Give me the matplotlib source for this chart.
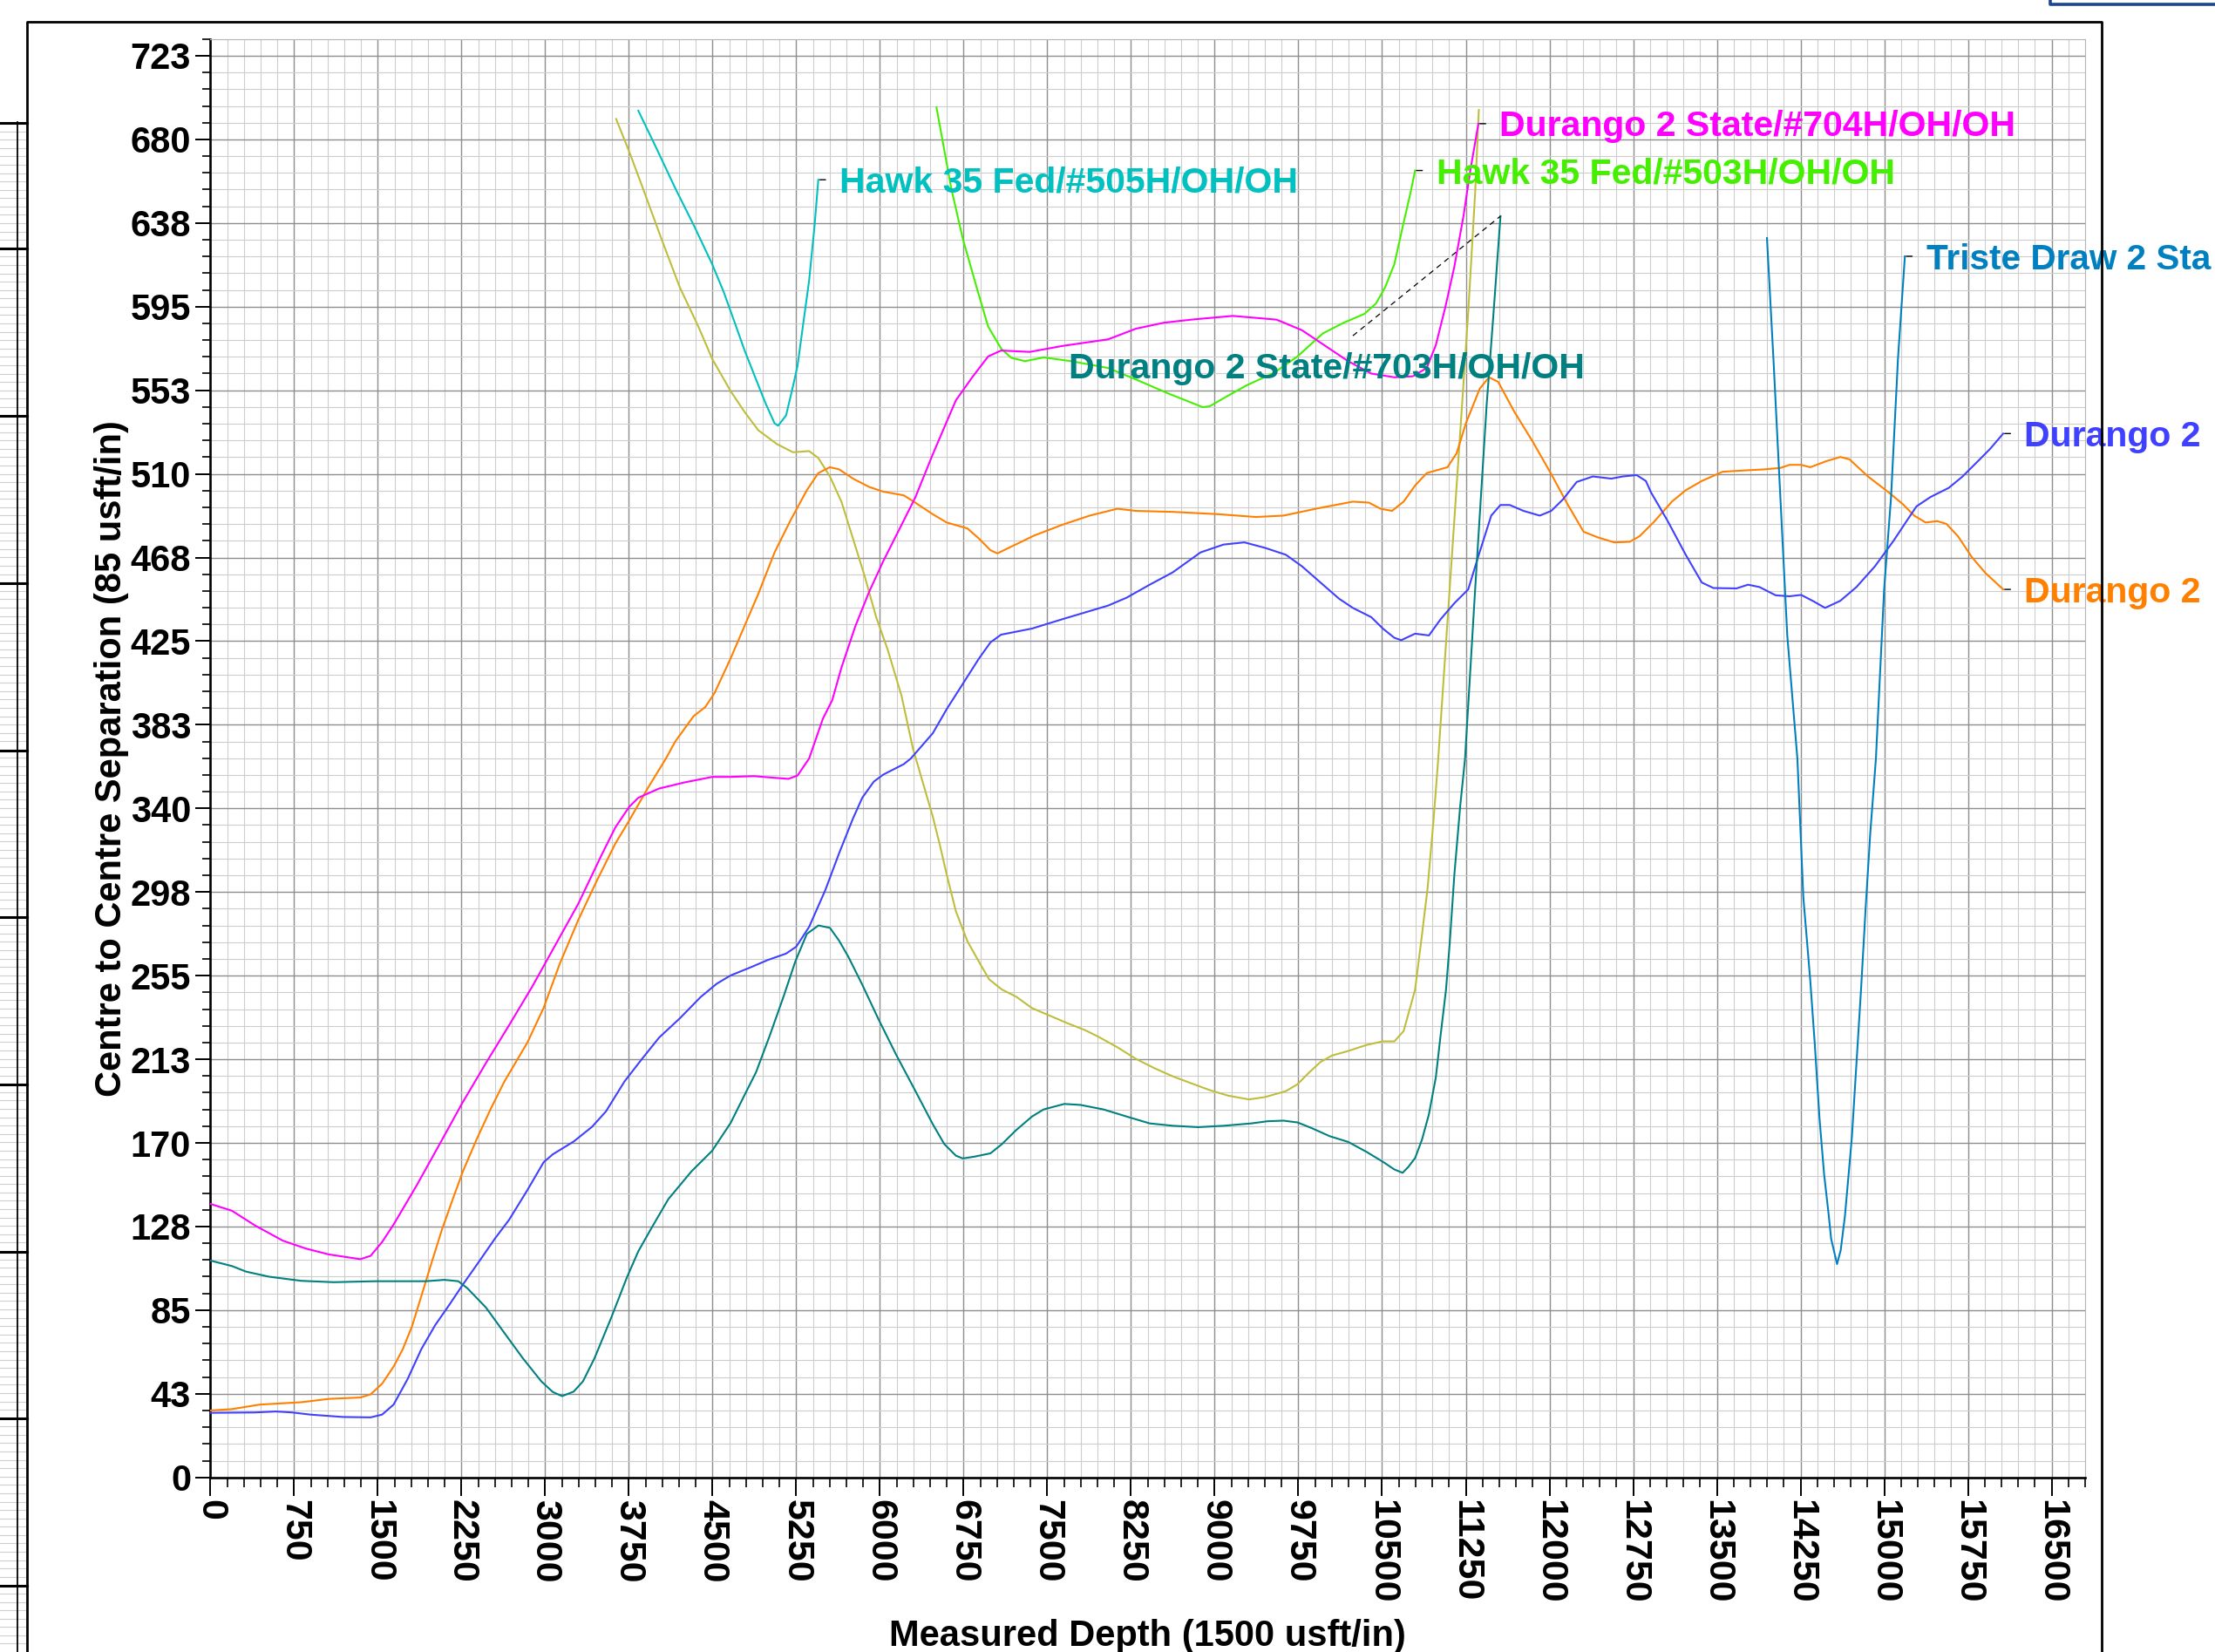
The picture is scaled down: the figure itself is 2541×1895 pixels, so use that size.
import matplotlib
matplotlib.use("Agg")
import matplotlib.pyplot as plt
from matplotlib.lines import Line2D

# ---------------- data ----------------
x_ticks = list(range(0, 16501, 750))
y_tick_values = [42.5 * i for i in range(18)]
y_tick_labels = ["0", "43", "85", "128", "170", "213", "255", "298", "340",
                 "383", "425", "468", "510", "553", "595", "638", "680", "723"]

# Durango 2 State/#704H/OH/OH (magenta)
durango_704 = [(0, 139), (194, 135.5), (401, 128), (650, 120.3), (856, 116.3), (1063, 113.3),
               (1345, 110.9), (1436, 112.6), (1539, 119.6), (1642, 128.5), (1849, 148.4),
               (2056, 169.5), (2255, 190), (2470, 210.6), (2677, 229.8), (2883, 249.3),
               (3090, 270.4), (3297, 291.5), (3504, 316.1), (3628, 330.2), (3752, 340.7),
               (3835, 345.4), (4021, 350.1), (4249, 353.2), (4497, 356), (4662, 356),
               (4869, 356.4), (5179, 355), (5262, 356.7), (5366, 365.4), (5490, 385.7),
               (5573, 395), (5655, 411.5), (5780, 432.6), (5903, 450), (6028, 465.4),
               (6193, 484), (6317, 498), (6474, 520), (6557, 531), (6681, 547.4),
               (6826, 559), (6970, 569.7), (7086, 572.7), (7343, 572), (7632, 575),
               (8046, 578.4), (8294, 583.8), (8542, 586.8), (8790, 588.4), (9162, 590.3),
               (9555, 588.4), (9783, 583), (9948, 576.7), (10196, 567.3), (10403, 561),
               (10610, 559.1), (10775, 559.6), (10900, 563.8), (10982, 575.5), (11065, 594.3),
               (11148, 615.4), (11230, 641.2), (11292, 664.6), (11363, 688)]

# Hawk 35 Fed/#505H/OH/OH (cyan)
hawk_505 = [(3835, 694.6), (4000, 675.2), (4166, 655.2), (4331, 636.5), (4497, 616.6),
            (4600, 602.5), (4704, 586.1), (4786, 573), (4890, 558), (4973, 546.2),
            (5056, 535.7), (5088, 534.5), (5159, 539.7), (5221, 554.5), (5262, 565),
            (5304, 582.6), (5366, 608.4), (5415, 636.5), (5448, 659.5)]

# Hawk 35 Fed/#503H/OH/OH (green)
hawk_503 = [(6507, 696.3), (6639, 655.2), (6743, 629.5), (6867, 604.8), (6970, 584.9),
            (7086, 573.7), (7177, 569), (7301, 567.3), (7467, 569.2), (7715, 567.3),
            (8046, 563.8), (8294, 558), (8583, 550.9), (8894, 543.9), (8956, 544.4),
            (9121, 549.8), (9286, 555), (9535, 561.5), (9742, 569.7), (9969, 581.4),
            (10155, 586.8), (10341, 591.3), (10445, 596.6), (10527, 604.8), (10610, 616.6),
            (10693, 637.7), (10755, 652.9), (10796, 664.2)]

# unlabelled offset well (olive)
olive_well = [(3636, 690.4), (3752, 674), (3876, 655.2), (4042, 629.5), (4207, 604.8),
              (4373, 584.9), (4497, 568.5), (4662, 552.1), (4786, 541.6), (4910, 532.2),
              (5076, 525.2), (5221, 521), (5366, 521.6), (5448, 518.1), (5552, 508.7),
              (5655, 495.9), (5759, 477.1), (5862, 458.3), (5966, 437.3), (6069, 420.8),
              (6193, 397.4), (6296, 370.4), (6474, 335.8), (6536, 321.7), (6598, 306.5),
              (6681, 287.7), (6784, 272.5), (6888, 262), (6979, 253.1), (7094, 247.9),
              (7219, 244.4), (7363, 238.5), (7508, 235), (7673, 231), (7839, 227.3),
              (7963, 223.8), (8128, 218.6), (8294, 212.7), (8459, 208), (8625, 203.8),
              (8790, 200.3), (8956, 196.8), (9121, 194), (9307, 192.1), (9452, 193.3),
              (9638, 196.3), (9742, 199.8), (9845, 205.7), (9948, 211.1), (10052, 214.4),
              (10196, 216.7), (10362, 219.8), (10507, 221.6), (10610, 221.6), (10693, 226.8),
              (10796, 247.9), (10858, 276), (10908, 299.5), (10962, 334.6), (11003, 365),
              (11189, 521.6), (11272, 592), (11334, 652.9), (11367, 695)]

# Durango 2 (orange)
durango_702 = [(0, 34), (194, 34.7), (443, 37), (815, 38.2), (1063, 39.9), (1345, 40.6),
               (1436, 42.2), (1539, 47.6), (1642, 56.3), (1725, 65.2), (1808, 76.9),
               (1891, 92.2), (1973, 107.4), (2077, 126.2), (2180, 142.6), (2263, 155.5),
               (2387, 171.9), (2511, 187.1), (2635, 201.2), (2842, 221.1), (2987, 238.7),
               (3131, 261), (3297, 283.3), (3463, 303.2), (3628, 322), (3752, 333.7),
               (3918, 350.1), (4083, 365.4), (4166, 374), (4331, 386.9), (4435, 391.5),
               (4518, 398.6), (4662, 416.2), (4786, 432.6), (4910, 449), (5056, 470.1),
               (5200, 486.5), (5345, 501.7), (5448, 510.4), (5552, 513.4), (5635, 512.3),
               (5759, 507.6), (5903, 503.4), (6028, 501), (6214, 499.1), (6317, 495.4),
               (6474, 489.5), (6598, 485.3), (6784, 482.3), (6888, 477.1), (6991, 471.2),
               (7053, 469.6), (7136, 471.9), (7384, 478.7), (7632, 484.1), (7880, 488.8),
               (8128, 492.3), (8294, 491.2), (8625, 490.7), (9038, 489.5), (9369, 488.1),
               (9617, 488.8), (9907, 492.3), (10238, 495.9), (10382, 495.4), (10486, 492.3),
               (10589, 491.2), (10693, 495.9), (10796, 504.1), (10900, 510.4), (11086, 513.4),
               (11168, 520.5), (11251, 535.7), (11375, 553.3), (11458, 559.1), (11540, 556.8),
               (11685, 541.6), (11851, 526.3), (12016, 509.9), (12161, 494.7), (12306, 480.6),
               (12430, 477.8), (12580, 475.2), (12719, 475.5), (12807, 478.3), (12931, 485.3),
               (13097, 495.9), (13221, 501.7), (13365, 506.4), (13552, 511.1), (13758, 511.8),
               (13924, 512.3), (14068, 513), (14151, 514.6), (14255, 514.6), (14337, 513.4),
               (14482, 516.5), (14606, 518.6), (14689, 517.4), (14854, 508.7), (15040, 500.6),
               (15165, 494.7), (15268, 488.8), (15371, 485.3), (15475, 486), (15557, 484.6),
               (15661, 478.3), (15785, 467.7), (15909, 459.5), (16066, 451.3)]

# Durango 2 (blue)
durango_701 = [(0, 32.8), (401, 33), (587, 33.5), (732, 33), (898, 31.9), (1187, 30.7),
               (1436, 30.5), (1539, 31.9), (1642, 37), (1767, 49.9), (1891, 65.2),
               (2015, 77.4), (2139, 87.5), (2263, 98), (2408, 109.7), (2552, 121.5),
               (2677, 130.9), (2842, 146.1), (2987, 160.2), (3069, 164.2), (3256, 170.7),
               (3421, 178.2), (3545, 186), (3711, 201.2), (3856, 211.8), (4021, 223.5),
               (4207, 233.3), (4393, 244.1), (4538, 250.9), (4662, 255.1), (4849, 259.4),
               (4993, 262.9), (5159, 266.2), (5250, 269.7), (5366, 279.8), (5511, 298.5),
               (5635, 317.3), (5759, 334.9), (5842, 345.4), (5945, 353.6), (6028, 357.1),
               (6214, 362.5), (6276, 365.3), (6474, 378.2), (6598, 390.4), (6743, 403.3),
               (6888, 416.2), (6991, 424.4), (7086, 428.3), (7363, 431.4), (7632, 436.1),
               (7839, 439.6), (8046, 443.1), (8211, 447.1), (8418, 453.7), (8625, 460),
               (8873, 470.1), (9080, 474.1), (9266, 475.2), (9452, 472.4), (9638, 468.9),
               (9783, 463), (9948, 454.8), (10114, 446.6), (10238, 441.9), (10403, 437.2),
               (10507, 431.4), (10610, 426.7), (10672, 425.5), (10796, 428.8), (10920, 427.9),
               (11024, 436.1), (11148, 444.3), (11272, 451.3), (11354, 466.6), (11478, 488.8),
               (11561, 494.2), (11644, 494.2), (11768, 491.2), (11913, 488.8), (12016, 491.2),
               (12120, 497), (12244, 505.9), (12389, 508.7), (12554, 507.6), (12657, 508.7),
               (12781, 509.4), (12864, 506.4), (12910, 500.6), (13055, 486.5), (13221, 468.9),
               (13365, 454.8), (13469, 452), (13676, 451.8), (13779, 453.7), (13882, 452.5),
               (14027, 448.3), (14151, 447.8), (14255, 448.5), (14358, 445.5), (14470, 441.9),
               (14606, 445.5), (14751, 452.5), (14916, 463), (15082, 475.9), (15206, 486.5),
               (15289, 493.5), (15413, 498.2), (15578, 502.9), (15702, 508.7), (15847, 516.9),
               (15950, 522.8), (16066, 530.5)]

# Durango 2 State/#703H/OH/OH (teal)
durango_703 = [(0, 110.2), (194, 107.4), (319, 104.6), (525, 102), (815, 99.9), (1105, 99.2),
               (1477, 99.7), (1932, 99.7), (2097, 100.4), (2222, 99.7), (2304, 96.1),
               (2470, 86.3), (2635, 73.4), (2801, 60.5), (2966, 48.8), (3069, 43.4),
               (3152, 41.3), (3256, 43.6), (3339, 48.8), (3442, 60.5), (3587, 80.4),
               (3732, 101.5), (3835, 114.9), (3959, 127.3), (4104, 141.4), (4311, 155.5),
               (4497, 166), (4662, 180.1), (4786, 194.2), (4890, 205.9), (5014, 224.7),
               (5138, 244.6), (5242, 262.2), (5345, 276.2), (5449, 280.5), (5552, 279.3),
               (5635, 272.7), (5718, 264.5), (5842, 250.4), (5987, 232.9), (6152, 214.1),
               (6317, 196.5), (6474, 179.5), (6577, 169.4), (6681, 163.5), (6743, 162.1),
               (6846, 163), (6991, 164.7), (7094, 169.4), (7219, 176.4), (7363, 183.4),
               (7467, 187), (7653, 189.8), (7797, 189.3), (8004, 187), (8211, 183.4),
               (8418, 179.9), (8625, 178.7), (8852, 178), (9080, 178.7), (9328, 179.9),
               (9473, 181), (9617, 181.3), (9742, 180.4), (9866, 177.6), (10031, 173.4),
               (10196, 170.5), (10362, 165.4), (10507, 160.4), (10610, 156.5), (10684, 154.8),
               (10734, 157.7), (10796, 162.3), (10858, 171.7), (10920, 184.6), (10982, 203.4),
               (11024, 224.5), (11073, 247.9), (11106, 271.3), (11148, 306.5), (11201, 341.7),
               (11243, 365), (11334, 451.3), (11437, 545), (11499, 592), (11561, 641)]

# Triste Draw 2 State (blue-cyan)
triste_draw = [(13949, 629.9), (14007, 568.5), (14069, 498.2), (14131, 427.9), (14222, 365),
               (14275, 294.8), (14337, 252.6), (14378, 219.8), (14420, 182.3), (14461, 154.1),
               (14503, 133), (14524, 121.3), (14577, 108.4), (14610, 115.5), (14648, 133),
               (14710, 172.9), (14751, 210.4), (14792, 247.9), (14834, 290.1), (14875, 327.6),
               (14925, 365), (14999, 451.3), (15061, 498.2), (15123, 568.5), (15185, 620.6)]

# label of the teal well (placed in the middle of the plot) and its dashed leader start
teal_label_pos = (7694, 565)
teal_leader_start = (10238, 580.2)

# ---------------- styling ----------------
W, H, DPI = 2541, 1895, 100
plt.rcParams["font.family"] = ["Liberation Sans", "DejaVu Sans"]
plt.rcParams["font.weight"] = "bold"

fig = plt.figure(figsize=(W / DPI, H / DPI), dpi=DPI)
fig.patch.set_facecolor("white")


def fx(px):
    return px / W


def fy(py):
    return 1 - py / H


ax_l, ax_r, ax_t, ax_b = 241.3, 2392.0, 44.8, 1694.7
ax = fig.add_axes([fx(ax_l), fy(ax_b), (ax_r - ax_l) / W, (ax_b - ax_t) / H])
ax.set_xlim(0, 16800)
ax.set_ylim(0, 731)
ax.set_axisbelow(True)

ax.set_xticks(x_ticks)
ax.set_xticklabels([str(v) for v in x_ticks], rotation=-90)
ax.set_xticks([150 * i for i in range(113)], minor=True)
ax.set_yticks(y_tick_values)
ax.set_yticklabels(y_tick_labels)
ax.set_yticks([8.5 * i for i in range(87)], minor=True)

ax.grid(which="minor", color="#cdcdcd", lw=0.8)
ax.grid(which="major", color="#8e8e8e", lw=1.0)

ax.tick_params(axis="y", which="major", length=12, width=1.4, pad=4, labelsize=30)
ax.tick_params(axis="y", which="minor", length=6.5, width=1.2)
ax.tick_params(axis="x", which="major", length=15, width=1.4, pad=3, labelsize=31)
ax.tick_params(axis="x", which="minor", length=7.6, width=1.2)

for s in ("left", "bottom"):
    ax.spines[s].set_linewidth(1.9)
    ax.spines[s].set_color("black")
for s in ("top", "right"):
    ax.spines[s].set_linewidth(0.8)
    ax.spines[s].set_color("#b5b5b5")

# (points, colour, visible label text, label font size)
series = [
    (olive_well, "#bebe3c", None, 0),
    (hawk_505, "#00c0c0", "Hawk 35 Fed/#505H/OH/OH", 29.5),
    (hawk_503, "#44f000", "Hawk 35 Fed/#503H/OH/OH", 29.5),
    (durango_702, "#ff8000", "Durango 2", 29.5),
    (durango_701, "#4040ff", "Durango 2", 29.5),
    (durango_703, "#008080", None, 0),
    (durango_704, "#ff00ff", "Durango 2 State/#704H/OH/OH", 29.5),
    (triste_draw, "#0080c0", "Triste Draw 2 Sta", 29.2),
]

for pts, color, label, fsize in series:
    xs, ys = zip(*pts)
    ax.plot(xs, ys, color=color, lw=1.5, solid_joinstyle="round", zorder=3)
    if label:
        end = pts[-1]
        ax.annotate("", xy=end, xytext=(6, 0), textcoords="offset points",
                    arrowprops=dict(arrowstyle="-", color="black", lw=1.0,
                                    shrinkA=0, shrinkB=1.2),
                    annotation_clip=False, zorder=4)
        ax.annotate(label, xy=end, xytext=(17.5, -10.5), textcoords="offset points",
                    color=color, fontsize=fsize, fontweight="bold", ha="left",
                    va="baseline", annotation_clip=False, zorder=5)

# teal well label with dashed leader to the end of its curve
teal_end = durango_703[-1]
ax.plot([teal_leader_start[0], teal_end[0]], [teal_leader_start[1], teal_end[1]],
        color="black", lw=0.9, ls=(0, (5, 4)), zorder=4)
ax.annotate("Durango 2 State/#703H/OH/OH", xy=teal_label_pos, xytext=(0, -10.5),
            textcoords="offset points", color="#008080", fontsize=29.5,
            fontweight="bold", ha="left", va="baseline", annotation_clip=False, zorder=5)

# axis titles
fig.text(fx((ax_l + ax_r) / 2), fy(1888), "Measured Depth (1500 usft/in)",
         ha="center", va="baseline", fontsize=30, fontweight="bold")
fig.text(fx(128), fy((ax_t + ax_b) / 2), "Centre to Centre Separation (85 usft/in)",
         ha="center", va="center", rotation=90, fontsize=30, fontweight="bold")

# ---------------- page decorations (frame, neighbouring panel) ----------------
fig.add_artist(Line2D([fx(30.6), fx(30.6), fx(2410.8), fx(2410.8)],
                      [fy(1900), fy(24.9), fy(24.9), fy(1900)],
                      transform=fig.transFigure, color="black", lw=2.0))
# sliver of neighbouring sheet on the left
step = 191.7 / 20
yy = 141.0
while yy < H:
    fig.add_artist(Line2D([fx(0), fx(29)], [fy(yy), fy(yy)], transform=fig.transFigure,
                          color="#cfcfcf", lw=0.8))
    yy += step
strip_rules = [141.0] + [285.4 + 191.7 * k for k in range(9)]
for yk in strip_rules:
    fig.add_artist(Line2D([fx(0), fx(30.6)], [fy(yk), fy(yk)], transform=fig.transFigure,
                          color="black", lw=2.2))
fig.add_artist(Line2D([fx(20.4), fx(20.4)], [fy(140), fy(1900)], transform=fig.transFigure,
                      color="black", lw=1.3))
# partial box at top right
fig.add_artist(Line2D([fx(2352), fx(2352), fx(2545)], [fy(-3), fy(5), fy(5)],
                      transform=fig.transFigure, color="#1d4595", lw=2.6))

fig.savefig("out.png", dpi=DPI, facecolor="white")
